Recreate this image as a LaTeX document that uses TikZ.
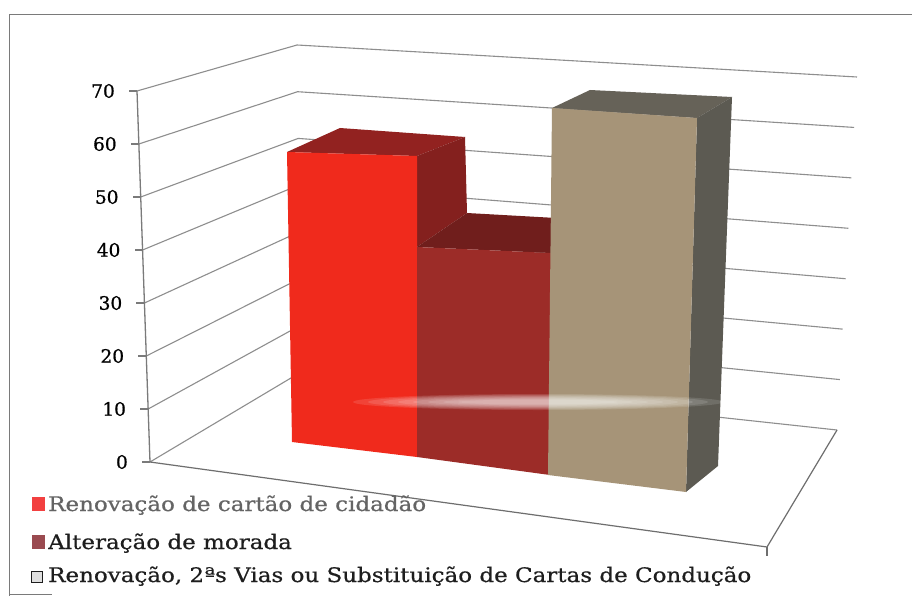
\documentclass[tikz,border=0pt]{standalone}
\usepackage{fontspec}
\setmainfont{DejaVu Serif}
\newfontfamily\legfont{DejaVu Serif}[FakeStretch=1.15,FakeBold=0.6]
\newfontfamily\axfont{DejaVu Serif}[FakeBold=0.8]
\usetikzlibrary{calc}
\definecolor{gridc}{HTML}{8E8E8E}
\definecolor{axisc}{HTML}{7A7A7A}
\definecolor{framec}{HTML}{7A7A7A}
\definecolor{floorc}{HTML}{6E6E6E}
\definecolor{redfront}{RGB}{240,42,28}
\definecolor{redtop}{RGB}{146,34,32}
\definecolor{redside}{RGB}{132,32,30}
\definecolor{drfront}{RGB}{156,44,40}
\definecolor{drtop}{RGB}{112,30,28}
\definecolor{tanfront}{RGB}{166,148,120}
\definecolor{tantop}{RGB}{102,98,88}
\definecolor{tanside}{RGB}{92,90,82}
\definecolor{legred}{RGB}{242,64,64}
\definecolor{legdr}{RGB}{154,74,80}
\definecolor{legtxtgray}{RGB}{100,100,100}
\definecolor{legtxt}{RGB}{30,30,30}
\tikzset{
  gridline/.style={draw=gridc, line width=1.1pt},
  axisline/.style={draw=axisc, line width=1.3pt},
  floorline/.style={draw=floorc, line width=1.2pt},
  axlab/.style={anchor=east, inner sep=0pt, font=\fontsize{18.5}{20}\axfont, text=black},
  legtext/.style={anchor=base west, inner sep=0pt, font=\fontsize{20}{22}\legfont},
  legmark/.style={inner sep=0pt, minimum width=13pt, minimum height=14pt}
}
\begin{document}
\begin{tikzpicture}[x=1pt,y=-1pt]
\useasboundingbox (0,0) rectangle (912,596);
\fill[white] (0,0) rectangle (912,596);
% frame
\draw[framec, line width=1pt] (9,596) -- (9,15) -- (912,15);
\draw[framec, line width=0.8pt] (9,594) -- (52,594);
% wall corners
\coordinate (F0) at (150,462);
\coordinate (F7) at (137,91);
\coordinate (B0) at (301,372);
\coordinate (B7) at (297,45);
\coordinate (R0) at (837,430);
\coordinate (R7) at (857,77);
\coordinate (FR) at (767,547);
\coordinate (FRt) at (767,556);
% gridlines
\foreach \i in {0,...,7}{
  \draw[gridline] ($(F0)!\i/7!(F7)$) -- ($(B0)!\i/7!(B7)$) -- ($(R0)!\i/7!(R7)$);
}
% floor edges
\draw[floorline] (F0) -- (FR) -- (R0);
\draw[floorline] (FR) -- (FRt);
% axis
\draw[axisline] (F0) -- (F7);
\foreach \i [evaluate=\i as \v using int(10*\i)] in {0,...,7}{
  \draw[axisline] ($(F0)!\i/7!(F7)$) -- ++(-8,0);
  \node[axlab] (lab\i) at ($(F0)!\i/7!(F7)+(-22,0)$) {\v};
}
% red box
\fill[redtop] (287,152) -- (340,128) -- (465,137) -- (417,156) -- cycle;
\fill[redside] (417,156) -- (465,137) -- (467,213) -- (417,247) -- cycle;
\fill[redfront] (287,152) -- (417,156) -- (417,457) -- (292,442) -- cycle;
% dark red box
\fill[drtop] (417,247) -- (467,213) -- (592,220) -- (551,253) -- cycle;
\fill[drfront] (417,247) -- (551,253) -- (550,475) -- (417,457) -- cycle;
% tan box
\fill[tantop] (552,108) -- (590,90) -- (732,97) -- (697,118) -- cycle;
\fill[tanside] (697,118) -- (732,97) -- (718,466) -- (686,492) -- cycle;
\fill[tanfront] (552,108) -- (697,118) -- (686,492) -- (548,475) -- cycle;
% glare streak (soft, stacked)
\foreach \k in {0,...,7}{
  \fill[white, opacity=0.12] (538,402) ellipse [x radius={185-15*\k}, y radius={8-0.8*\k}];
}
% legend
\node[legmark, fill=legred] (m1) at (38.5,504) {};
\node[legtext, text=legtxtgray] (t1) at (48,511) {Renovação de cartão de cidadão};
\node[legmark, fill=legdr] (m2) at (38.5,541.5) {};
\node[legtext, text=legtxt] (t2) at (48,549) {Alteração de morada};
\node[legmark, draw=legtxt, fill=gray!25, line width=1pt, minimum width=11pt, minimum height=11pt] (m3) at (37,577) {};
\node[legtext, text=legtxt] (t3) at (48,582) {Renovação, 2ªs Vias ou Substituição de Cartas de Condução};
\end{tikzpicture}
\end{document}
